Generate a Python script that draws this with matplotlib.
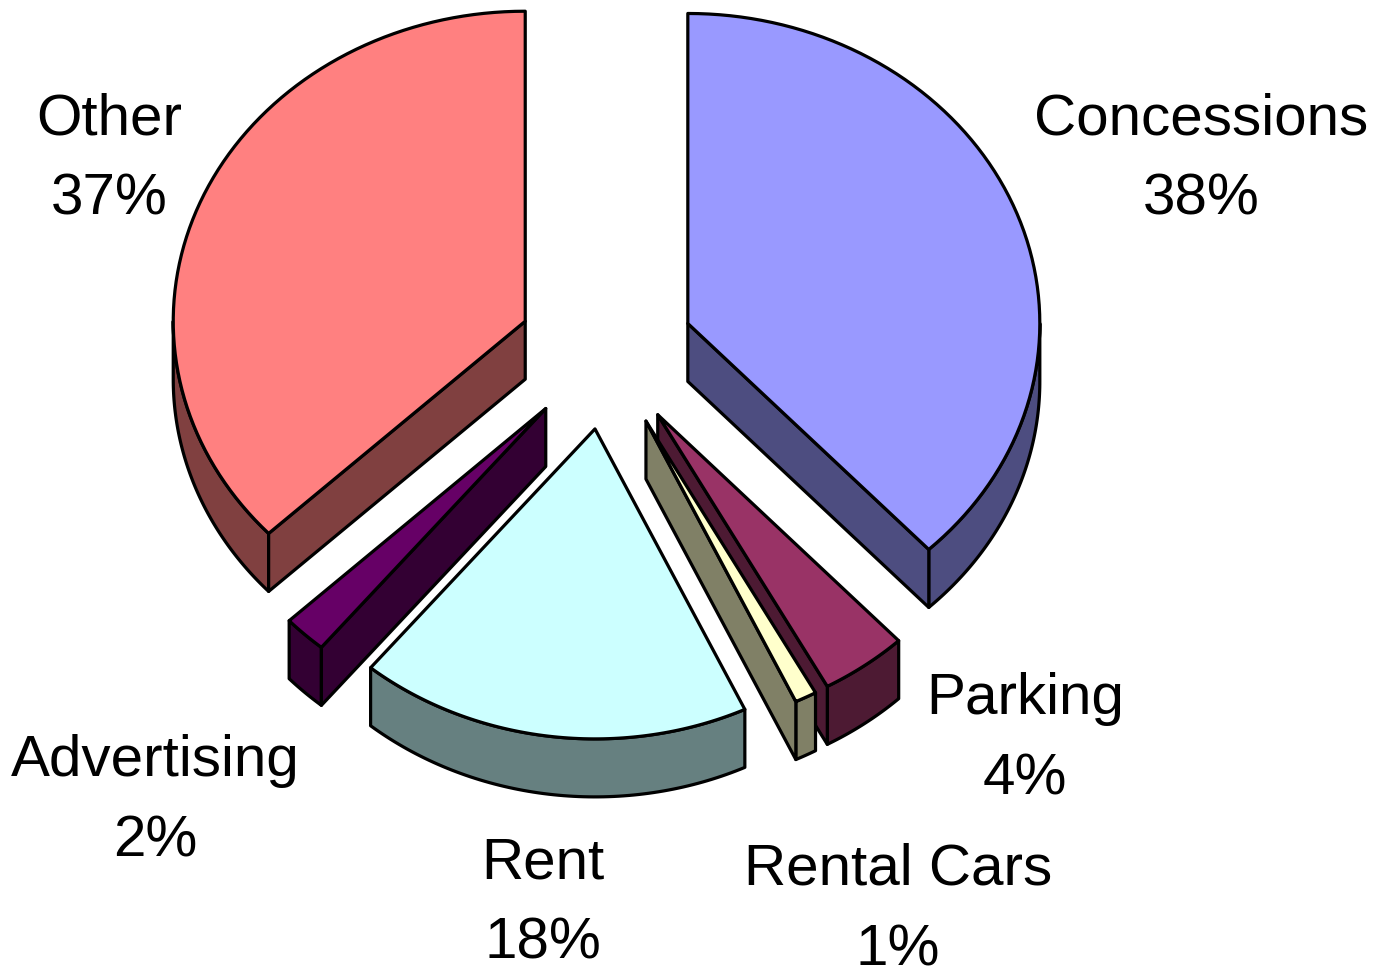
import numpy as np
import matplotlib.pyplot as plt
from matplotlib.patches import Polygon
from matplotlib.colors import to_rgb

# data, clockwise from 12 o'clock
categories = ['Concessions', 'Parking', 'Rental Cars', 'Rent', 'Advertising', 'Other']
shares = [38, 4, 1, 18, 2, 37]
top_colors = ['#9999FF', '#993366', '#FFFFCC', '#CCFFFF', '#660066', '#FF8080']

# label placement in ellipse units from pie centre (x right, y down)
label_pos = [(1.69, -0.62), (1.19, 1.25), (0.83, 1.80),
             (-0.18, 1.78), (-1.28, 1.45), (-1.41, -0.62)]

W, H = 1375, 977
fig = plt.figure(figsize=(W / 100, H / 100), dpi=100)
ax = fig.add_axes([0, 0, 1, 1])
ax.set_xlim(0, W)
ax.set_ylim(H, 0)
ax.axis('off')

cx, cy = 606, 352      # pie centre
rx, ry = 352, 310      # tilted ellipse radii
depth = 58             # thickness of the pie
explode = 0.25
lw = 2.3


def rim(c, a1, a2, n=80):
    t = np.radians(np.linspace(a1, a2, n))
    return np.column_stack([c[0] + rx * np.sin(t), c[1] - ry * np.cos(t)])


def shade(col):
    return tuple(0.5 * v for v in to_rgb(col))


def face(pts, col, z):
    ax.add_patch(Polygon(pts, closed=True, facecolor=col, edgecolor='black',
                         linewidth=lw, joinstyle='round', zorder=z))


total = float(sum(shares))
bounds = np.concatenate([[0], np.cumsum(shares)]) / total * 360.0
mids = (bounds[:-1] + bounds[1:]) / 2

# back slices first
order = sorted(range(len(shares)), key=lambda i: -np.cos(np.radians(mids[i])))

for rank, i in enumerate(order):
    a1, a2, am = bounds[i], bounds[i + 1], mids[i]
    tm = np.radians(am)
    c = (cx + explode * rx * np.sin(tm), cy - explode * ry * np.cos(tm))
    cb = (c[0], c[1] + depth)
    col = top_colors[i]
    dark = shade(col)
    z = 2 + rank * 4

    # outer wall, visible on the front half
    lo, hi = max(a1, 90), min(a2, 270)
    if hi > lo:
        top = rim(c, lo, hi)
        bot = rim(cb, lo, hi)
        face(np.vstack([top, bot[::-1]]), dark, z)

    # radial cut faces
    for a, vis in ((a1, np.sin(np.radians(a1)) < 0), (a2, np.sin(np.radians(a2)) > 0)):
        if vis:
            p = rim(c, a, a, 1)[0]
            face([c, p, (p[0], p[1] + depth), cb], dark, z + 1)

    # top surface
    face(np.vstack([[c], rim(c, a1, a2)]), col, z + 2)

for i, cat in enumerate(categories):
    u, v = label_pos[i]
    ax.text(cx + u * rx, cy + v * ry, f'{cat}\n{shares[i]}%',
            ha='center', va='center', multialignment='center',
            fontsize=42, family='Liberation Sans', linespacing=1.62, zorder=50)

fig.savefig('out.png', dpi=100, facecolor='white')
